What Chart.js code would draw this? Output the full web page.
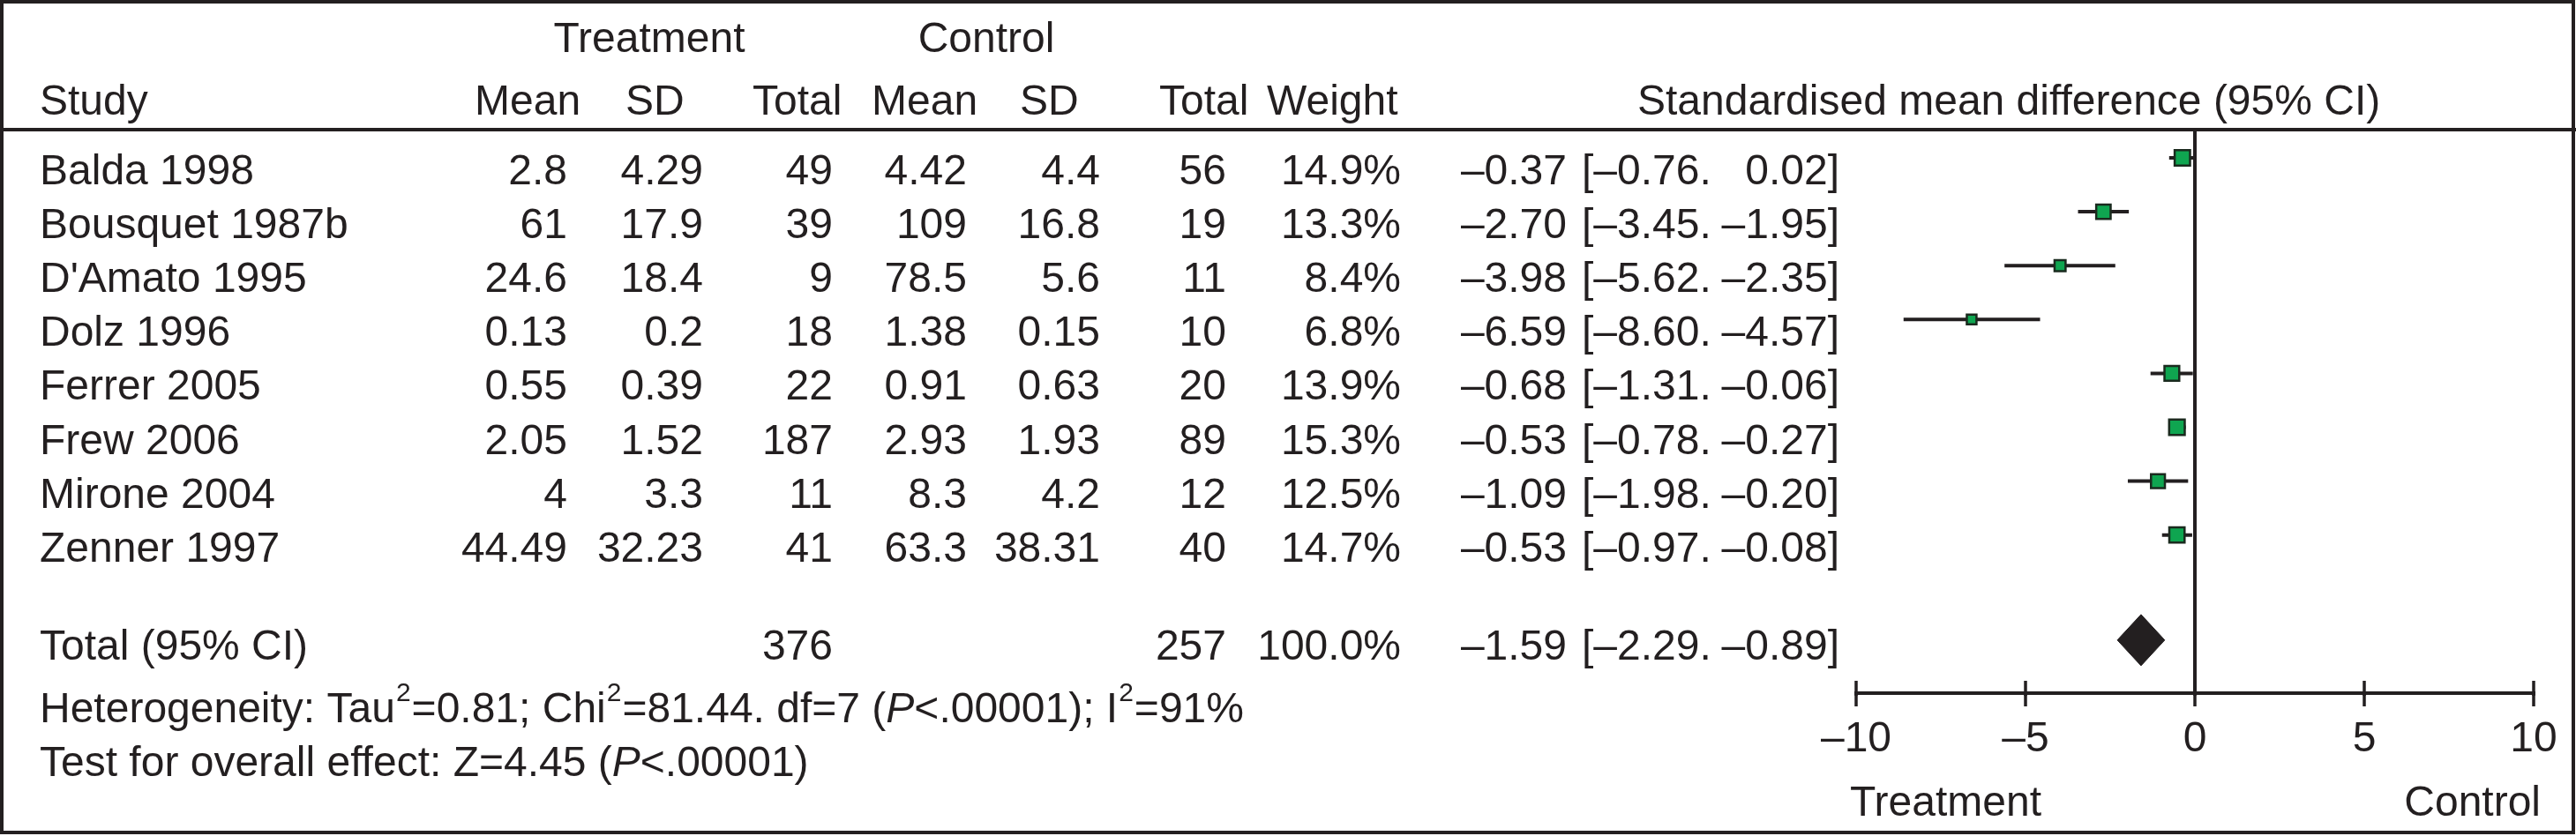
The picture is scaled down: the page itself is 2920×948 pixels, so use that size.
<!DOCTYPE html>
<html><head><meta charset="utf-8">
<script src="https://cdn.jsdelivr.net/npm/chart.js@4.4.1/dist/chart.umd.min.js"></script>
<style>html,body{margin:0;padding:0;background:#fff;overflow:hidden}canvas{display:block}</style>
</head><body>
<canvas id="c" width="2920" height="948" style="width:2920px;height:948px"></canvas>
<script>
// ---------- data ----------
const studies = ['Balda 1998', 'Bousquet 1987b', "D'Amato 1995", 'Dolz 1996', 'Ferrer 2005', 'Frew 2006', 'Mirone 2004', 'Zenner 1997'];
const treatMean = [2.8, 61, 24.6, 0.13, 0.55, 2.05, 4, 44.49];
const treatSD   = [4.29, 17.9, 18.4, 0.2, 0.39, 1.52, 3.3, 32.23];
const treatN    = [49, 39, 9, 18, 22, 187, 11, 41];
const ctrlMean  = [4.42, 109, 78.5, 1.38, 0.91, 2.93, 8.3, 63.3];
const ctrlSD    = [4.4, 16.8, 5.6, 0.15, 0.63, 1.93, 4.2, 38.31];
const ctrlN     = [56, 19, 11, 10, 20, 89, 12, 40];
const weights   = [14.9, 13.3, 8.4, 6.8, 13.9, 15.3, 12.5, 14.7];
const smd       = [-0.37, -2.70, -3.98, -6.59, -0.68, -0.53, -1.09, -0.53];
const ciLower   = [-0.76, -3.45, -5.62, -8.60, -1.31, -0.78, -1.98, -0.97];
const ciUpper   = [0.02, -1.95, -2.35, -4.57, -0.06, -0.27, -0.20, -0.08];
const totalLabel = 'Total (95% CI)';
const totalTreatN = 376;
const totalCtrlN = 257;
const totalWeight = 100.0;
const totalSmd = -1.59;
const totalLower = -2.29;
const totalUpper = -0.89;
const groupHeaders = ['Treatment', 'Control'];
const columnHeaders = ['Study', 'Mean', 'SD', 'Total', 'Mean', 'SD', 'Total', 'Weight', 'Standardised mean difference (95% CI)'];
const xTicks = [-10, -5, 0, 5, 10];
const axisSideLabels = ['Treatment', 'Control'];
const tau2 = '0.81', chi2 = '81.44', dfVal = '7', pHet = '<.00001', i2 = '91%';
const zVal = '4.45', pOverall = '<.00001';

// ---------- styling / layout ----------
const INK = '#231f20';
const GREEN = '#0fa550';
const FONT = '"Liberation Sans", Arial, Helvetica, sans-serif';
const FS = 48;
const TOTAL_ROW = 8.95;        // vertical slot of pooled diamond (row units)
const DIAMOND_HALF = 0.475;    // half height of diamond in row units

const dash = v => (v < 0 ? '\u2013' : '') + Math.abs(v).toFixed(2);
const markerRadius = w => (20 * Math.sqrt(w / 15) - 2.5) / Math.SQRT2;

// CI segments separated by gaps
const ciData = [];
smd.forEach((_, i) => {
  ciData.push({x: ciLower[i], y: i}, {x: ciUpper[i], y: i}, {x: NaN, y: NaN});
});
const markerData = smd.map((v, i) => ({x: v, y: i}));
const diamondData = [
  {x: totalLower, y: TOTAL_ROW},
  {x: totalSmd, y: TOTAL_ROW - DIAMOND_HALF},
  {x: totalUpper, y: TOTAL_ROW},
  {x: totalSmd, y: TOTAL_ROW + DIAMOND_HALF},
  {x: totalLower, y: TOTAL_ROW}
];

const tablePlugin = {
  id: 'table',
  afterDraw(chart) {
    const ctx = chart.ctx;
    const ys = chart.scales.y, xs = chart.scales.x;
    ctx.save();
    // frame
    ctx.strokeStyle = INK;
    ctx.lineWidth = 4;
    ctx.strokeRect(2, 2, 2915, 942);
    // header rule
    ctx.beginPath(); ctx.moveTo(0, 147); ctx.lineTo(2920, 147); ctx.stroke();
    // upper halves of tick marks
    ctx.lineWidth = 3.5;
    xTicks.forEach(v => {
      const px = xs.getPixelForValue(v);
      ctx.beginPath(); ctx.moveTo(px, 772); ctx.lineTo(px, 789); ctx.stroke();
    });

    ctx.fillStyle = INK;
    ctx.font = `${FS}px ${FONT}`;
    ctx.textBaseline = 'alphabetic';
    const txt = (s, x, y, align) => { ctx.textAlign = align || 'left'; ctx.fillText(s, x, y); };

    // headers
    txt(groupHeaders[0], 736, 59, 'center');
    txt(groupHeaders[1], 1118, 59, 'center');
    const hx = [45, 538, 709, 853, 988, 1156, 1314, 1436, 1856];
    columnHeaders.forEach((h, i) => txt(h, hx[i], 130, 'left'));

    // rows
    const cols = [643, 797, 944, 1096, 1247, 1390, 1588];
    studies.forEach((s, i) => {
      const y = ys.getPixelForValue(i) + 30;
      txt(s, 45, y);
      txt(String(treatMean[i]), cols[0], y, 'right');
      txt(String(treatSD[i]), cols[1], y, 'right');
      txt(String(treatN[i]), cols[2], y, 'right');
      txt(String(ctrlMean[i]), cols[3], y, 'right');
      txt(String(ctrlSD[i]), cols[4], y, 'right');
      txt(String(ctrlN[i]), cols[5], y, 'right');
      txt(weights[i].toFixed(1) + '%', cols[6], y, 'right');
      txt(dash(smd[i]), 1776, y, 'right');
      txt('[' + dash(ciLower[i]) + '.', 1793, y, 'left');
      txt(dash(ciUpper[i]) + ']', 2085, y, 'right');
    });
    // total row
    const ty = 748;
    txt(totalLabel, 45, ty);
    txt(String(totalTreatN), cols[2], ty, 'right');
    txt(String(totalCtrlN), cols[5], ty, 'right');
    txt(totalWeight.toFixed(1) + '%', cols[6], ty, 'right');
    txt(dash(totalSmd), 1776, ty, 'right');
    txt('[' + dash(totalLower) + '.', 1793, ty, 'left');
    txt(dash(totalUpper) + ']', 2085, ty, 'right');

    // rich lines
    const rich = (parts, x, y) => {
      ctx.textAlign = 'left';
      parts.forEach(p => {
        if (p.sup) { ctx.font = `30px ${FONT}`; ctx.fillText(p.t, x + 1, y - 24); x += 2; }
        else if (p.it) { ctx.font = `italic ${FS}px ${FONT}`; ctx.fillText(p.t, x, y); }
        else { ctx.font = `${FS}px ${FONT}`; ctx.fillText(p.t, x, y); }
        x += ctx.measureText(p.t).width;
      });
      ctx.font = `${FS}px ${FONT}`;
    };
    rich([
      {t: 'Heterogeneity: Tau'}, {t: '2', sup: true}, {t: '=' + tau2 + '; Chi'}, {t: '2', sup: true},
      {t: '=' + chi2 + '. df=' + dfVal + ' ('}, {t: 'P', it: true}, {t: pHet + '); I'}, {t: '2', sup: true}, {t: '=' + i2}
    ], 45, 819);
    rich([{t: 'Test for overall effect: Z=' + zVal + ' ('}, {t: 'P', it: true}, {t: pOverall + ')'}], 45, 880);

    // axis side labels
    txt(axisSideLabels[0], 2097, 925, 'left');
    txt(axisSideLabels[1], 2880, 925, 'right');
    ctx.restore();
  }
};

new Chart(document.getElementById('c'), {
  data: {
    datasets: [
      {type: 'line', data: ciData, borderColor: INK, borderWidth: 4, pointRadius: 0, spanGaps: false, fill: false, order: 3, tension: 0},
      {type: 'line', data: diamondData, borderColor: INK, backgroundColor: INK, borderWidth: 1, pointRadius: 0, fill: 'shape', order: 2, tension: 0},
      {type: 'scatter', data: markerData, pointStyle: 'rect', backgroundColor: GREEN, borderColor: '#1a2a1e', borderWidth: 2.5,
       pointRadius: c => markerRadius(weights[c.dataIndex]), order: 1}
    ]
  },
  options: {
    responsive: false,
    devicePixelRatio: 1,
    animation: false,
    events: [],
    layout: {padding: {left: 2104, right: 48, top: 147, bottom: 0}},
    plugins: {legend: {display: false}, tooltip: {enabled: false}},
    scales: {
      x: {
        type: 'linear', position: 'bottom', min: -10, max: 10,
        afterBuildTicks: s => { s.ticks = xTicks.map(v => ({value: v})); },
        afterFit: s => { s.height = 162; },
        ticks: {font: {family: FONT, size: FS}, color: INK, padding: 9, maxRotation: 0, autoSkip: false,
                callback: v => (v < 0 ? '\u2013' : '') + Math.abs(v)},
        grid: {drawOnChartArea: true, drawTicks: true, tickLength: 15, tickWidth: 3.5, tickColor: INK,
               color: c => (c.tick && c.tick.value === 0) ? INK : 'rgba(0,0,0,0)', lineWidth: 4},
        border: {display: true, color: INK, width: 4}
      },
      y: {type: 'linear', display: false, reverse: true, min: -0.5237, max: 9.934}
    }
  },
  plugins: [tablePlugin]
});
</script>
</body></html>
